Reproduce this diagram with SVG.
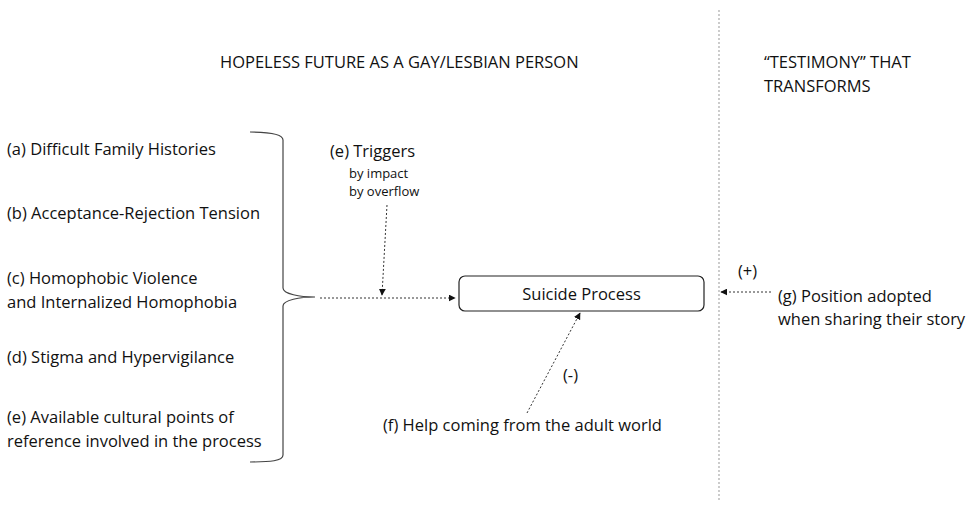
<svg xmlns="http://www.w3.org/2000/svg" width="970" height="508" viewBox="0 0 970 508">
<style>
text{font-family:"Open Sans","Noto Sans",sans-serif;fill:#111;font-size:16.5px}
.sm{font-size:13px}
.con{fill:none;stroke:#333;stroke-width:1;stroke-dasharray:2,2}
</style>
<defs>
<marker id="ah" viewBox="0 0 10 10" refX="9" refY="5" markerWidth="7" markerHeight="7" orient="auto" markerUnits="userSpaceOnUse"><path d="M0,0L10,5L0,10z" fill="#111"/></marker>
</defs>
<rect width="970" height="508" fill="#fff"/>
<line x1="719" y1="10" x2="719" y2="502" stroke="#aaa" stroke-width="1.2" stroke-dasharray="2,2"/>
<g id="title-left"><text x="220" y="68">HOPELESS FUTURE AS A GAY/LESBIAN PERSON</text></g>
<g id="title-right"><text x="764" y="68">“TESTIMONY” THAT</text><text x="764" y="92">TRANSFORMS</text></g>
<g id="factors">
<text x="7" y="155">(a) Difficult Family Histories</text>
<text x="7" y="219">(b) Acceptance-Rejection Tension</text>
<text x="7" y="284">(c) Homophobic Violence</text>
<text x="7" y="308">and Internalized Homophobia</text>
<text x="7" y="363">(d) Stigma and Hypervigilance</text>
<text x="7" y="423">(e) Available cultural points of</text>
<text x="7" y="447">reference involved in the process</text>
</g>
<g id="brace"><path d="M250,132 C270,132 283,134 283,140 L283,288 C283,294 300,297 315,297 C300,297 283,300 283,306 L283,455 C283,461 270,462 250,462" fill="none" stroke="#444" stroke-width="1.2"/></g>
<g id="triggers"><text x="330" y="157">(e) Triggers</text><text class="sm" x="349" y="178">by impact</text><text class="sm" x="349" y="196">by overflow</text></g>
<g id="suicide"><rect x="459" y="276" width="245" height="35" rx="6" fill="#fff" stroke="#222" stroke-width="1.2"/><text x="581.5" y="300" text-anchor="middle">Suicide Process</text></g>
<g id="help"><text x="383" y="431">(f) Help coming from the adult world</text></g>
<g id="position"><text x="778" y="302">(g) Position adopted</text><text x="778" y="325">when sharing their story</text></g>
<g id="connectors">
<line class="con" x1="320" y1="298" x2="455" y2="298" marker-end="url(#ah)"/>
<line class="con" x1="387" y1="205" x2="382" y2="295" marker-end="url(#ah)"/>
<line class="con" x1="527" y1="413" x2="580" y2="313" marker-end="url(#ah)"/>
<line class="con" x1="771" y1="292" x2="721" y2="292" marker-end="url(#ah)"/>
<text x="563" y="381">(-)</text>
<text x="738" y="277">(+)</text>
</g>
</svg>
